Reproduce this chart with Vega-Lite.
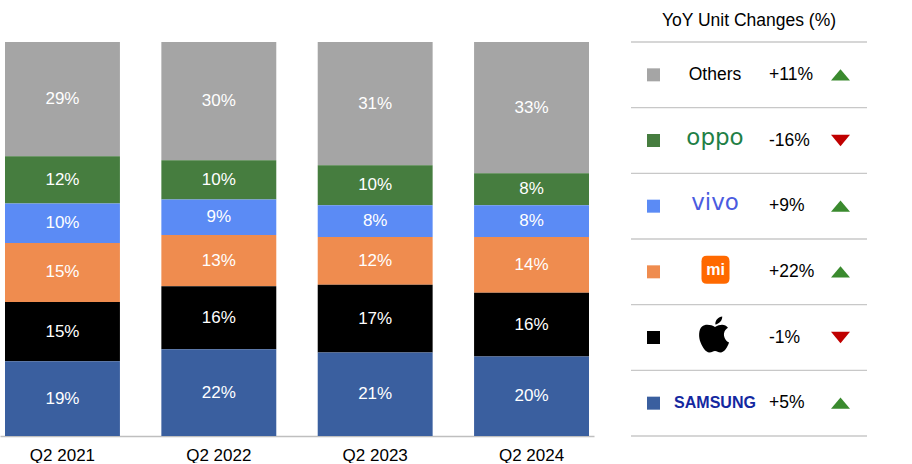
{
  "$schema": "https://vega.github.io/schema/vega-lite/v6.json",
  "autosize": {"type": "pad"},
  "padding": {"top": 11, "left": 0, "right": 0, "bottom": 0},
  "background": "white",
  "bounds": "flush",
  "spacing": 37,
  "config": {"view": {"stroke": null}, "font": "Liberation Sans"},
  "datasets": {
    "shares": [
      {"quarter": "Q2 2021", "brand": "Others", "share": 29},
      {"quarter": "Q2 2021", "brand": "OPPO", "share": 12},
      {"quarter": "Q2 2021", "brand": "vivo", "share": 10},
      {"quarter": "Q2 2021", "brand": "Xiaomi", "share": 15},
      {"quarter": "Q2 2021", "brand": "Apple", "share": 15},
      {"quarter": "Q2 2021", "brand": "Samsung", "share": 19},
      {"quarter": "Q2 2022", "brand": "Others", "share": 30},
      {"quarter": "Q2 2022", "brand": "OPPO", "share": 10},
      {"quarter": "Q2 2022", "brand": "vivo", "share": 9},
      {"quarter": "Q2 2022", "brand": "Xiaomi", "share": 13},
      {"quarter": "Q2 2022", "brand": "Apple", "share": 16},
      {"quarter": "Q2 2022", "brand": "Samsung", "share": 22},
      {"quarter": "Q2 2023", "brand": "Others", "share": 31},
      {"quarter": "Q2 2023", "brand": "OPPO", "share": 10},
      {"quarter": "Q2 2023", "brand": "vivo", "share": 8},
      {"quarter": "Q2 2023", "brand": "Xiaomi", "share": 12},
      {"quarter": "Q2 2023", "brand": "Apple", "share": 17},
      {"quarter": "Q2 2023", "brand": "Samsung", "share": 21},
      {"quarter": "Q2 2024", "brand": "Others", "share": 33},
      {"quarter": "Q2 2024", "brand": "OPPO", "share": 8},
      {"quarter": "Q2 2024", "brand": "vivo", "share": 8},
      {"quarter": "Q2 2024", "brand": "Xiaomi", "share": 14},
      {"quarter": "Q2 2024", "brand": "Apple", "share": 16},
      {"quarter": "Q2 2024", "brand": "Samsung", "share": 20}
    ],
    "yoy": [
      {"brand": "Others", "logo": "Others", "change": "+11%", "dir": "up"},
      {"brand": "OPPO", "logo": "oppo", "change": "-16%", "dir": "down"},
      {"brand": "vivo", "logo": "vivo", "change": "+9%", "dir": "up"},
      {"brand": "Xiaomi", "logo": "mi", "change": "+22%", "dir": "up"},
      {"brand": "Apple", "logo": "", "change": "-1%", "dir": "down"},
      {"brand": "Samsung", "logo": "SAMSUNG", "change": "+5%", "dir": "up"}
    ]
  },
  "hconcat": [
    {
      "width": 594,
      "height": 394,
      "data": {"name": "shares"},
      "transform": [
        {"calculate": "indexof(['Samsung','Apple','Xiaomi','vivo','OPPO','Others'], datum.brand)", "as": "stackRank"},
        {"calculate": "datum.share + '%'", "as": "label"}
      ],
      "encoding": {
        "x": {
          "field": "quarter",
          "type": "nominal",
          "sort": null,
          "scale": {"paddingInner": 0.265, "paddingOuter": 0.032},
          "axis": {
            "title": null,
            "ticks": false,
            "domainColor": "#bfbfbf",
            "domainWidth": 1.5,
            "labelFontSize": 17,
            "labelColor": "#000000",
            "labelPadding": 11,
            "labelAngle": 0
          }
        },
        "y": {"field": "share", "type": "quantitative", "stack": "normalize", "axis": null},
        "order": {"field": "stackRank", "type": "quantitative", "sort": "ascending"},
        "color": {
          "field": "brand",
          "type": "nominal",
          "scale": {
            "domain": ["Samsung", "Apple", "Xiaomi", "vivo", "OPPO", "Others"],
            "range": ["#3A5F9F", "#000000", "#EF8C4F", "#5B8BF5", "#467D3F", "#A5A5A5"]
          },
          "legend": null
        }
      },
      "layer": [
        {"mark": {"type": "bar"}},
        {
          "mark": {"type": "text", "fontSize": 17, "baseline": "middle"},
          "encoding": {
            "y": {"field": "share", "type": "quantitative", "stack": "normalize", "bandPosition": 0.5, "axis": null},
            "fill": {"value": "#ffffff"},
            "text": {"field": "label"}
          }
        }
      ]
    },
    {
      "width": 236,
      "height": 394,
      "data": {"name": "yoy"},
      "title": {
        "text": "YoY Unit Changes (%)",
        "fontSize": 17.5,
        "fontWeight": "normal",
        "color": "#000000",
        "anchor": "middle",
        "offset": 12
      },
      "encoding": {
        "y": {
          "field": "brand",
          "type": "nominal",
          "sort": ["Others", "OPPO", "vivo", "Xiaomi", "Apple", "Samsung"],
          "scale": {"paddingInner": 0, "paddingOuter": 0},
          "axis": null
        }
      },
      "layer": [
        {
          "mark": {"type": "rule", "color": "#c8c8c8", "strokeWidth": 1.3},
          "encoding": {
            "y": {"field": "brand", "type": "nominal", "sort": ["Others", "OPPO", "vivo", "Xiaomi", "Apple", "Samsung"], "bandPosition": 1}
          }
        },
        {
          "transform": [{"filter": "datum.brand === 'Others'"}],
          "mark": {"type": "rule", "color": "#c8c8c8", "strokeWidth": 1.3},
          "encoding": {
            "y": {"field": "brand", "type": "nominal", "sort": ["Others", "OPPO", "vivo", "Xiaomi", "Apple", "Samsung"], "bandPosition": 0}
          }
        },
        {
          "mark": {"type": "point", "shape": "square", "filled": true, "size": 169, "opacity": 1},
          "encoding": {
            "x": {"datum": 22.5, "type": "quantitative", "scale": {"domain": [0, 236]}, "axis": null},
            "color": {"field": "brand", "type": "nominal", "legend": null}
          }
        },
        {
          "mark": {"type": "text", "fontSize": 17.5, "baseline": "middle", "align": "left", "color": "#000000"},
          "encoding": {
            "x": {"datum": 138, "type": "quantitative", "scale": {"domain": [0, 236]}, "axis": null},
            "text": {"field": "change"}
          }
        },
        {
          "transform": [{"filter": "datum.dir === 'up'"}],
          "mark": {"type": "point", "shape": "M-1,0.6L1,0.6L0,-0.6Z", "filled": true, "size": 361, "color": "#3A8A2E", "opacity": 1},
          "encoding": {
            "x": {"datum": 209.5, "type": "quantitative", "scale": {"domain": [0, 236]}, "axis": null}
          }
        },
        {
          "transform": [{"filter": "datum.dir === 'down'"}],
          "mark": {"type": "point", "shape": "M-1,-0.6L1,-0.6L0,0.6Z", "filled": true, "size": 361, "color": "#C00000", "opacity": 1},
          "encoding": {
            "x": {"datum": 209.5, "type": "quantitative", "scale": {"domain": [0, 236]}, "axis": null}
          }
        },
        {
          "transform": [{"filter": "datum.brand === 'Others'"}],
          "mark": {"type": "text", "fontSize": 17.5, "baseline": "middle", "align": "center", "color": "#000000"},
          "encoding": {
            "x": {"datum": 84, "type": "quantitative", "scale": {"domain": [0, 236]}, "axis": null},
            "text": {"field": "logo"}
          }
        },
        {
          "transform": [{"filter": "datum.brand === 'OPPO'"}],
          "mark": {"type": "text", "font": "DejaVu Sans", "fontSize": 23, "baseline": "middle", "align": "center", "color": "#1F8046", "dy": -3},
          "encoding": {
            "x": {"datum": 84, "type": "quantitative", "scale": {"domain": [0, 236]}, "axis": null},
            "text": {"field": "logo"}
          }
        },
        {
          "transform": [{"filter": "datum.brand === 'vivo'"}],
          "mark": {"type": "text", "font": "DejaVu Sans", "fontSize": 23, "baseline": "middle", "align": "center", "color": "#4A5BE0", "dy": -3},
          "encoding": {
            "x": {"datum": 84, "type": "quantitative", "scale": {"domain": [0, 236]}, "axis": null},
            "text": {"field": "logo"}
          }
        },
        {
          "transform": [{"filter": "datum.brand === 'Xiaomi'"}],
          "mark": {"type": "point", "shape": "M-0.62,-1L0.62,-1Q1,-1 1,-0.62L1,0.62Q1,1 0.62,1L-0.62,1Q-1,1 -1,0.62L-1,-0.62Q-1,-1 -0.62,-1Z", "filled": true, "size": 784, "color": "#FF6900", "opacity": 1, "yOffset": -2},
          "encoding": {
            "x": {"datum": 84.5, "type": "quantitative", "scale": {"domain": [0, 236]}, "axis": null}
          }
        },
        {
          "transform": [{"filter": "datum.brand === 'Xiaomi'"}],
          "mark": {"type": "text", "fontSize": 16, "fontWeight": "bold", "baseline": "middle", "align": "center", "color": "#ffffff", "dy": -2},
          "encoding": {
            "x": {"datum": 84.5, "type": "quantitative", "scale": {"domain": [0, 236]}, "axis": null},
            "text": {"field": "logo"}
          }
        },
        {
          "transform": [{"filter": "datum.brand === 'Apple'"}],
          "mark": {"type": "point", "shape": "M0,-0.42C-0.2,-0.55 -0.55,-0.6 -0.72,-0.45C-0.92,-0.28 -0.92,0.15 -0.8,0.45C-0.68,0.75 -0.5,1 -0.32,1C-0.15,1 -0.12,0.92 0,0.92C0.12,0.92 0.16,1 0.32,1C0.5,1 0.68,0.75 0.78,0.45C0.55,0.35 0.48,0.1 0.5,-0.05C0.52,-0.22 0.62,-0.32 0.72,-0.38C0.58,-0.58 0.3,-0.6 0,-0.42ZM0.02,-0.56C0,-0.8 0.2,-0.98 0.4,-1C0.42,-0.78 0.22,-0.58 0.02,-0.56Z", "filled": true, "size": 1296, "color": "#000000", "opacity": 1, "yOffset": -3},
          "encoding": {
            "x": {"datum": 84, "type": "quantitative", "scale": {"domain": [0, 236]}, "axis": null}
          }
        },
        {
          "transform": [{"filter": "datum.brand === 'Samsung'"}],
          "mark": {"type": "text", "fontSize": 16, "fontWeight": "bold", "baseline": "middle", "align": "center", "color": "#1428A0"},
          "encoding": {
            "x": {"datum": 84, "type": "quantitative", "scale": {"domain": [0, 236]}, "axis": null},
            "text": {"field": "logo"}
          }
        }
      ]
    }
  ]
}
